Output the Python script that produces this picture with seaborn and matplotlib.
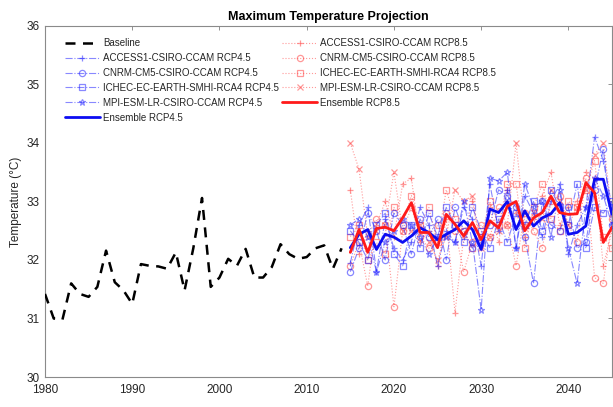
import numpy as np
import pandas as pd
import matplotlib
matplotlib.use("Agg")
import matplotlib.pyplot as plt
import seaborn as sns

# ---------------- data ----------------
base_years = list(range(1980, 2015))
baseline = [31.42, 31.00, 30.98, 31.60, 31.42, 31.37, 31.54, 32.16, 31.62, 31.48,
            31.25, 31.93, 31.90, 31.89, 31.85, 32.13, 31.48, 32.20, 33.06, 31.54,
            31.70, 32.02, 31.90, 32.19, 31.70, 31.70, 31.88, 32.27, 32.10, 32.02,
            32.05, 32.20, 32.25, 31.85, 32.20]

proj_years = list(range(2015, 2046))

access45 = [31.95, 32.60, 32.90, 31.80, 32.70, 32.20, 32.00, 32.30, 32.90, 32.60,
            31.90, 32.50, 32.30, 32.90, 32.70, 31.90, 33.30, 32.50, 33.20, 32.20,
            33.10, 32.80, 32.40, 33.00, 33.30, 32.10, 32.60, 32.90, 34.10, 33.70, 32.90]
cnrm45 = [31.80, 32.20, 32.80, 32.50, 32.00, 32.80, 32.60, 32.10, 32.70, 32.40,
          32.70, 32.00, 32.90, 32.50, 32.20, 32.30, 32.60, 33.20, 33.10, 32.90,
          32.40, 31.60, 33.00, 32.60, 32.50, 32.90, 32.20, 32.30, 33.20, 33.90, 32.60]
ichec45 = [32.50, 32.30, 32.00, 32.60, 32.80, 32.10, 31.90, 32.60, 32.20, 32.80,
           32.40, 32.90, 32.60, 32.30, 32.90, 32.50, 32.20, 32.70, 32.30, 32.80,
           32.60, 33.00, 32.50, 33.20, 32.90, 32.60, 33.30, 32.20, 32.90, 32.80, 33.00]
mpi45 = [32.60, 32.70, 32.40, 31.80, 32.30, 32.50, 32.70, 32.60, 32.40, 32.10,
         32.40, 32.40, 32.30, 33.00, 32.30, 31.15, 33.40, 33.35, 33.50, 32.20,
         33.30, 32.90, 33.00, 32.40, 33.20, 32.20, 31.60, 32.90, 33.40, 33.10, 32.60]
ens45 = [32.21, 32.44, 32.52, 32.18, 32.44, 32.39, 32.30, 32.41, 32.55, 32.47,
         32.35, 32.44, 32.52, 32.67, 32.52, 32.18, 32.87, 32.81, 33.00, 32.52,
         32.84, 32.58, 32.72, 32.79, 32.98, 32.44, 32.47, 32.58, 33.38, 33.38, 32.78]

access85 = [33.20, 32.10, 32.50, 32.60, 33.00, 32.40, 33.30, 33.40, 32.30, 32.50,
            31.90, 32.70, 31.10, 32.40, 33.00, 32.20, 32.90, 32.30, 33.20, 32.80,
            32.40, 32.70, 33.10, 33.50, 32.60, 32.90, 33.00, 33.50, 33.40, 31.90, 32.50]
cnrm85 = [31.90, 32.30, 31.55, 32.70, 32.60, 31.20, 32.50, 32.90, 32.40, 32.20,
          32.60, 32.80, 32.50, 31.80, 32.30, 32.60, 32.40, 32.90, 32.60, 31.90,
          32.80, 32.50, 32.20, 33.00, 33.10, 32.60, 32.30, 33.40, 31.70, 31.60, 32.70]
ichec85 = [32.40, 32.60, 32.00, 32.30, 32.10, 32.90, 32.60, 33.10, 32.60, 32.90,
           32.30, 33.20, 32.70, 32.50, 32.20, 32.40, 33.00, 32.60, 33.30, 33.30,
           32.20, 32.90, 33.30, 32.70, 32.50, 33.00, 32.90, 33.20, 33.70, 32.40, 32.20]
mpi85 = [34.00, 33.55, 32.40, 32.50, 32.60, 33.50, 32.50, 32.50, 32.60, 32.30,
         32.00, 32.40, 33.20, 33.00, 33.10, 32.20, 32.40, 32.50, 32.60, 34.00,
         32.60, 32.80, 32.70, 33.20, 33.00, 32.60, 32.90, 33.20, 33.80, 34.00, 32.80]
ens85 = [32.13, 32.52, 32.13, 32.54, 32.56, 32.50, 32.72, 32.98, 32.47, 32.47,
         32.21, 32.78, 32.61, 32.41, 32.64, 32.35, 32.67, 32.55, 32.92, 33.00,
         32.50, 32.72, 32.81, 33.09, 32.81, 32.78, 32.79, 33.32, 33.15, 32.30, 32.56]

labels45 = ["ACCESS1-CSIRO-CCAM RCP4.5", "CNRM-CM5-CSIRO-CCAM RCP4.5",
            "ICHEC-EC-EARTH-SMHI-RCA4 RCP4.5", "MPI-ESM-LR-CSIRO-CCAM RCP4.5"]
labels85 = ["ACCESS1-CSIRO-CCAM RCP8.5", "CNRM-CM5-CSIRO-CCAM RCP8.5",
            "ICHEC-EC-EARTH-SMHI-RCA4 RCP8.5", "MPI-ESM-LR-CSIRO-CCAM RCP8.5"]

# ---------------- style ----------------
sns.set_style("white")
plt.rcParams["font.family"] = ["Liberation Sans", "DejaVu Sans"]

fig = plt.figure(figsize=(6.13, 4.07), dpi=100)
ax = fig.add_axes([0.0734, 0.0737, 0.9250, 0.8625])

txt = "#262626"
markers = ["+", "o", "s", "*"]
blue = (0.15, 0.15, 1.0)
red = (1.0, 0.2, 0.2)

sns.lineplot(x=base_years, y=baseline, ax=ax, color="black", lw=1.8,
             dashes=False, linestyle=(0, (4, 3)), label="Baseline", zorder=5)

for vals, lab, m in zip([access45, cnrm45, ichec45, mpi45], labels45, markers):
    sns.lineplot(x=proj_years, y=vals, ax=ax, color=blue, lw=0.8, alpha=0.55,
                 linestyle="-.", marker=m, markersize=4.5, markerfacecolor="none",
                 markeredgecolor=blue, markeredgewidth=0.9, label=lab, zorder=3)
sns.lineplot(x=proj_years, y=ens45, ax=ax, color=(0.05, 0.05, 0.95), lw=2.0,
             label="Ensemble RCP4.5", zorder=7)

for vals, lab, m in zip([access85, cnrm85, ichec85, mpi85], labels85, markers):
    sns.lineplot(x=proj_years, y=vals, ax=ax, color=red, lw=0.8, alpha=0.5,
                 linestyle=":", marker=m if m != "*" else "x", markersize=4.5,
                 markerfacecolor="none", markeredgecolor=red, markeredgewidth=0.9,
                 label=lab, zorder=2)
sns.lineplot(x=proj_years, y=ens85, ax=ax, color=(1.0, 0.1, 0.1), lw=2.0,
             label="Ensemble RCP8.5", zorder=8)

ax.set_xlim(1980, 2045)
ax.set_ylim(30, 36)
ax.set_xticks([1980, 1990, 2000, 2010, 2020, 2030, 2040])
ax.set_yticks([30, 31, 32, 33, 34, 35, 36])
ax.tick_params(direction="in", length=3, width=0.6, colors="#808080",
               labelcolor=txt, labelsize=8.5, top=True, right=True, pad=3)
ax.tick_params(axis="x", pad=5)
ax.tick_params(axis="y", pad=4)
for s in ax.spines.values():
    s.set_color("#8a8a8a")
    s.set_linewidth(0.8)

ax.set_ylabel("Temperature (°C)", fontsize=8.5, color=txt, labelpad=3)
ax.set_xlabel("")
ax.set_title("Maximum Temperature Projection", fontsize=9, fontweight="bold",
             color="black", pad=4)

leg = ax.legend(ncol=2, loc="upper left", bbox_to_anchor=(0.035, 0.965),
                frameon=False, fontsize=7, handlelength=3.6, handletextpad=0.3,
                columnspacing=0.35, labelspacing=0.5, borderaxespad=0, borderpad=0)
for t in leg.get_texts():
    t.set_color(txt)

fig.savefig("out.png", dpi=100)
